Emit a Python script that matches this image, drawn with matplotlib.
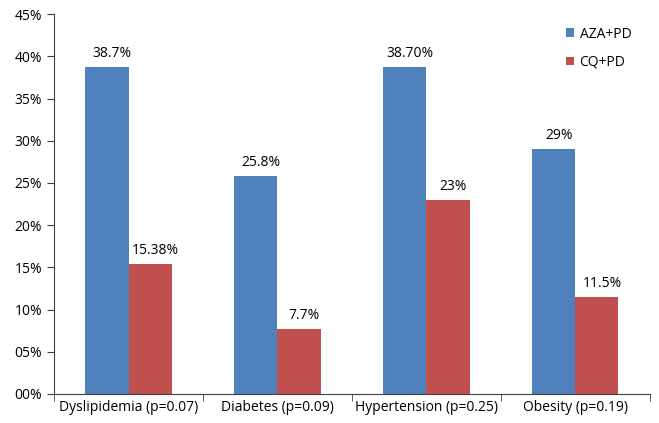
import matplotlib.pyplot as plt
import numpy as np
from matplotlib.ticker import FuncFormatter, FixedLocator

plt.rcParams['font.family'] = ['Open Sans', 'DejaVu Sans']

categories = ['Dyslipidemia (p=0.07)', 'Diabetes (p=0.09)', 'Hypertension (p=0.25)', 'Obesity (p=0.19)']
aza = [38.7, 25.8, 38.7, 29.0]
cq = [15.38, 7.7, 23.0, 11.5]
aza_labels = ['38.7%', '25.8%', '38.70%', '29%']
cq_labels = ['15.38%', '7.7%', '23%', '11.5%']
yticks = [0, 5, 10, 15, 20, 25, 30, 35, 40, 45]

fig = plt.figure(figsize=(6.59, 4.23), dpi=100)
ax = fig.add_axes([0.082, 0.0686, 0.904, 0.898])

x = np.arange(len(categories)) + 0.5
w = 0.29
b1 = ax.bar(x - w/2, aza, w, color='#4F81BD', label='AZA+PD')
b2 = ax.bar(x + w/2, cq, w, color='#C0504D', label='CQ+PD')

# value labels above bars (sit a little right of centre in the original)
for rect, lab in zip(list(b1) + list(b2), aza_labels + cq_labels):
    ax.text(rect.get_x() + rect.get_width()/2 + 0.035, rect.get_height() + 0.7, lab,
            ha='center', va='bottom', fontsize=10)

ax.set_xlim(0, len(categories))
ax.set_ylim(0, 45)
ax.set_yticks(yticks)
ax.yaxis.set_major_formatter(FuncFormatter(lambda v, p: '%02d%%' % v))
ax.set_xticks(x)
ax.set_xticklabels(categories, fontsize=10)
ax.xaxis.set_minor_locator(FixedLocator(np.arange(len(categories) + 1)))
ax.tick_params(axis='x', which='major', length=0, pad=4)
ax.tick_params(axis='x', which='minor', length=5, direction='out', color='#404040')
ax.tick_params(axis='y', length=5, direction='out', color='#404040', labelsize=10)

for s in ['top', 'right']:
    ax.spines[s].set_visible(False)
ax.spines['left'].set_color('#404040')
ax.spines['bottom'].set_color('#404040')

ax.legend(loc='upper right', bbox_to_anchor=(0.99, 1.0), frameon=False, fontsize=10,
          handlelength=0.6, handleheight=0.6, handletextpad=0.4, labelspacing=0.95)

fig.savefig('out.png', dpi=100)
